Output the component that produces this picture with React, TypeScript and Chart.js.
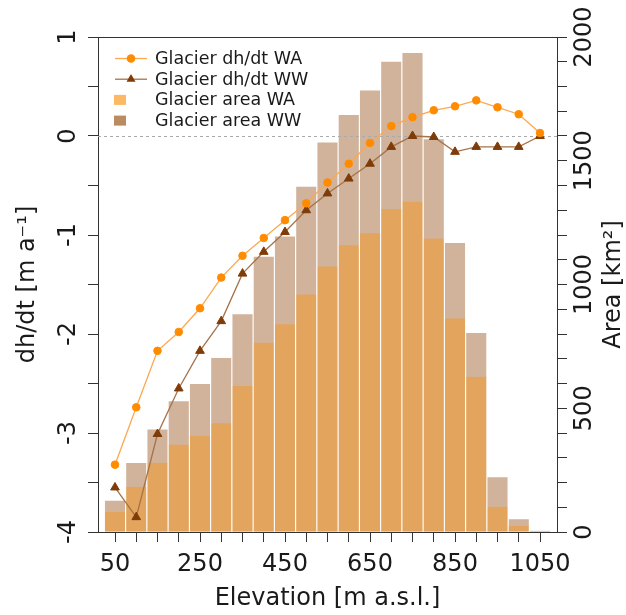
import React, { useEffect, useRef } from 'react';
import { Chart, registerables } from 'chart.js';

Chart.register(...registerables);

// ---------- data ----------
const ELEVATION = [50, 100, 150, 200, 250, 300, 350, 400, 450, 500, 550, 600, 650, 700, 750, 800, 850, 900, 950, 1000, 1050];
const DHDT_WA = [-3.32, -2.74, -2.17, -1.98, -1.74, -1.43, -1.21, -1.03, -0.85, -0.68, -0.47, -0.28, -0.07, 0.10, 0.19, 0.26, 0.30, 0.36, 0.29, 0.22, 0.03];
const DHDT_WW = [-3.55, -3.85, -3.01, -2.55, -2.17, -1.87, -1.39, -1.17, -0.97, -0.75, -0.58, -0.43, -0.28, -0.11, 0.0, -0.01, -0.16, -0.11, -0.11, -0.11, 0.0];
const AREA_WA = [81, 183, 280, 353, 388, 439, 590, 765, 839, 960, 1073, 1159, 1207, 1305, 1334, 1186, 863, 627, 102, 24, 4];
const AREA_WW = [129, 282, 417, 531, 601, 706, 883, 1115, 1197, 1398, 1576, 1688, 1787, 1903, 1938, 1590, 1170, 807, 224, 54, 5];
const X_TICK_LABELS = [50, 250, 450, 650, 850, 1050];
const Y_LEFT_TICK_LABELS = [-4, -3, -2, -1, 0, 1];
const Y_RIGHT_TICK_LABELS = [0, 500, 1000, 1500, 2000];
const LEGEND_LABELS = ['Glacier dh/dt WA', 'Glacier dh/dt WW', 'Glacier area WA', 'Glacier area WW'];
const X_TITLE = 'Elevation [m a.s.l.]';
const Y_LEFT_TITLE = 'dh/dt [m a\u207B\u00B9]';
const Y_RIGHT_TITLE = 'Area [km\u00B2]';

// ---------- styles ----------
const FONT = "'DejaVu Sans', sans-serif";
const TEXT = '#1a1a1a';
const AXIS = '#333333';
const WA_LINE = '#FDA850';
const WA_MARK = '#FF8C00';
const WW_LINE = '#A5724A';
const WW_MARK = '#7F3B08';
const WA_BAR = '#E3A55D';
const WW_BAR = '#D0B39A';
const WA_SWATCH = '#FDB863';
const WW_SWATCH = '#B98C61';

const zeroLinePlugin = {
  id: 'zeroLine',
  afterDatasetDraw(chart: any, args: any) {
    if (args.index !== 2) return;
    const { ctx, chartArea } = chart;
    const y = Math.round(chart.scales.y.getPixelForValue(0)) + 0.5;
    ctx.save();
    ctx.strokeStyle = '#aaaaaa';
    ctx.lineWidth = 1.2;
    ctx.setLineDash([3, 3]);
    ctx.beginPath();
    ctx.moveTo(chartArea.left, y);
    ctx.lineTo(chartArea.right, y);
    ctx.stroke();
    ctx.restore();
  },
};

const framePlugin = {
  id: 'frame',
  afterDraw(chart: any) {
    const { ctx, chartArea } = chart;
    ctx.save();
    ctx.strokeStyle = AXIS;
    ctx.lineWidth = 1;
    ctx.beginPath();
    const t = Math.round(chartArea.top) + 0.5;
    ctx.moveTo(Math.round(chartArea.left) + 0.5, t);
    ctx.lineTo(Math.round(chartArea.right) + 0.5, t);
    ctx.stroke();

    // right axis title
    ctx.fillStyle = TEXT;
    ctx.font = `24px ${FONT}`;
    ctx.textAlign = 'center';
    ctx.textBaseline = 'middle';
    ctx.translate(614, (chartArea.top + chartArea.bottom) / 2);
    ctx.rotate(-Math.PI / 2);
    ctx.fillText(Y_RIGHT_TITLE, 0, 0);
    ctx.restore();
  },
};

const legendPlugin = {
  id: 'customLegend',
  afterDraw(chart: any) {
    const { ctx } = chart;
    const ys = [58.5, 79.2, 99.9, 120.6];
    ctx.save();
    ctx.font = `17.5px ${FONT}`;
    ctx.fillStyle = TEXT;
    ctx.textAlign = 'left';
    ctx.textBaseline = 'middle';
    LEGEND_LABELS.forEach((label, i) => {
      const y = ys[i];
      if (i < 2) {
        ctx.strokeStyle = i === 0 ? WA_LINE : WW_LINE;
        ctx.lineWidth = 1.3;
        ctx.beginPath();
        ctx.moveTo(115, y);
        ctx.lineTo(147, y);
        ctx.stroke();
        ctx.fillStyle = i === 0 ? WA_MARK : WW_MARK;
        ctx.beginPath();
        if (i === 0) {
          ctx.arc(131, y, 4.3, 0, Math.PI * 2);
        } else {
          const r = 5.2;
          ctx.moveTo(131, y - r);
          ctx.lineTo(131 - r * 0.866, y + r / 2);
          ctx.lineTo(131 + r * 0.866, y + r / 2);
          ctx.closePath();
        }
        ctx.fill();
      } else {
        ctx.fillStyle = i === 2 ? WA_SWATCH : WW_SWATCH;
        ctx.fillRect(114, y - 5, 12, 10);
      }
      ctx.fillStyle = TEXT;
      ctx.fillText(label, 155, y + 1);
    });
    ctx.restore();
  },
};

export default function App() {
  const canvasRef = useRef<HTMLCanvasElement | null>(null);

  useEffect(() => {
    document.body.style.margin = '0';
    const canvas = canvasRef.current;
    if (!canvas) return;
    Chart.defaults.font.family = FONT;

    const tickGrid = { drawOnChartArea: false, drawTicks: true, tickLength: 10, tickColor: AXIS, tickWidth: 1 };

    const chart = new Chart(canvas, {
      type: 'bar',
      data: {
        datasets: [
          {
            type: 'line',
            label: LEGEND_LABELS[0],
            data: ELEVATION.map((x, i) => ({ x, y: DHDT_WA[i] })),
            xAxisID: 'x',
            yAxisID: 'y',
            borderColor: WA_LINE,
            borderWidth: 1.3,
            pointStyle: 'circle',
            pointRadius: 3.8,
            pointBorderWidth: 1,
            pointBackgroundColor: WA_MARK,
            pointBorderColor: WA_MARK,
            tension: 0,
            order: 0,
          } as any,
          {
            type: 'line',
            label: LEGEND_LABELS[1],
            data: ELEVATION.map((x, i) => ({ x, y: DHDT_WW[i] })),
            xAxisID: 'x',
            yAxisID: 'y',
            borderColor: WW_LINE,
            borderWidth: 1.3,
            pointStyle: 'triangle',
            pointRadius: 5,
            pointBorderWidth: 1,
            pointBackgroundColor: WW_MARK,
            pointBorderColor: WW_MARK,
            tension: 0,
            order: 1,
          } as any,
          {
            type: 'bar',
            label: LEGEND_LABELS[2],
            data: ELEVATION.map((x, i) => ({ x, y: AREA_WA[i] })),
            xAxisID: 'x',
            yAxisID: 'y2',
            backgroundColor: WA_BAR,
            borderColor: 'rgba(255,255,255,0.95)',
            borderWidth: { left: 0.9, right: 0.9, top: 0, bottom: 0 },
            borderSkipped: false,
            grouped: false,
            categoryPercentage: 1,
            barPercentage: 1,
            order: 2,
          } as any,
          {
            type: 'bar',
            label: LEGEND_LABELS[3],
            data: ELEVATION.map((x, i) => ({ x, y: AREA_WW[i] })),
            xAxisID: 'x',
            yAxisID: 'y2',
            backgroundColor: WW_BAR,
            borderColor: 'rgba(255,255,255,0.85)',
            borderWidth: { left: 0.9, right: 0.9, top: 1, bottom: 0 },
            borderSkipped: false,
            grouped: false,
            categoryPercentage: 1,
            barPercentage: 1,
            order: 3,
          } as any,
        ],
      },
      options: {
        animation: false,
        responsive: false,
        devicePixelRatio: 1,
        layout: { padding: { top: 37, left: 0, right: 0, bottom: 0 } },
        plugins: {
          legend: { display: false },
          tooltip: { enabled: false },
        },
        scales: {
          x: {
            type: 'linear',
            position: 'bottom',
            offset: false,
            min: 10,
            max: 1090,
            afterBuildTicks: (s: any) => {
              s.ticks = ELEVATION.map((v) => ({ value: v }));
            },
            afterFit: (s: any) => {
              s.height = 83;
            },
            grid: { ...tickGrid, offset: false },
            border: { display: true, color: AXIS, width: 1 },
            ticks: {
              autoSkip: false,
              maxRotation: 0,
              minRotation: 0,
              padding: 8,
              color: TEXT,
              font: { size: 24 },
              callback: (v: any) => (X_TICK_LABELS.includes(Number(v)) ? String(v) : ''),
            },
            title: {
              display: true,
              text: X_TITLE,
              color: TEXT,
              font: { size: 24 },
              padding: { top: 0, bottom: 2 },
            },
          },
          y: {
            type: 'linear',
            position: 'left',
            min: -4,
            max: 1,
            afterFit: (s: any) => {
              s.width = 98;
            },
            grid: tickGrid,
            border: { display: true, color: AXIS, width: 1 },
            ticks: {
              autoSkip: false,
              stepSize: 0.5,
              minRotation: 90,
              maxRotation: 90,
              crossAlign: 'center',
              padding: 7,
              color: TEXT,
              font: { size: 24 },
              callback: (v: any) => (Y_LEFT_TICK_LABELS.includes(Number(v)) ? String(v) : ''),
            },
            title: {
              display: true,
              text: Y_LEFT_TITLE,
              color: TEXT,
              font: { size: 24 },
              padding: { top: 13, bottom: 0 },
            },
          },
          y2: {
            type: 'linear',
            position: 'right',
            min: 0,
            max: 2000,
            afterFit: (s: any) => {
              s.width = 69;
            },
            grid: tickGrid,
            border: { display: true, color: AXIS, width: 1 },
            ticks: {
              autoSkip: false,
              stepSize: 100,
              minRotation: 90,
              maxRotation: 90,
              crossAlign: 'center',
              padding: -12.7,
              color: TEXT,
              font: { size: 24 },
              callback: (v: any) => (Y_RIGHT_TICK_LABELS.includes(Number(v)) ? String(v) : ''),
            },
          },
        },
      } as any,
      plugins: [zeroLinePlugin, framePlugin, legendPlugin],
    });

    return () => chart.destroy();
  }, []);

  return (
    <div style={{ width: 626, height: 615 }}>
      <canvas ref={canvasRef} width={626} height={615} style={{ display: 'block' }} />
    </div>
  );
}
